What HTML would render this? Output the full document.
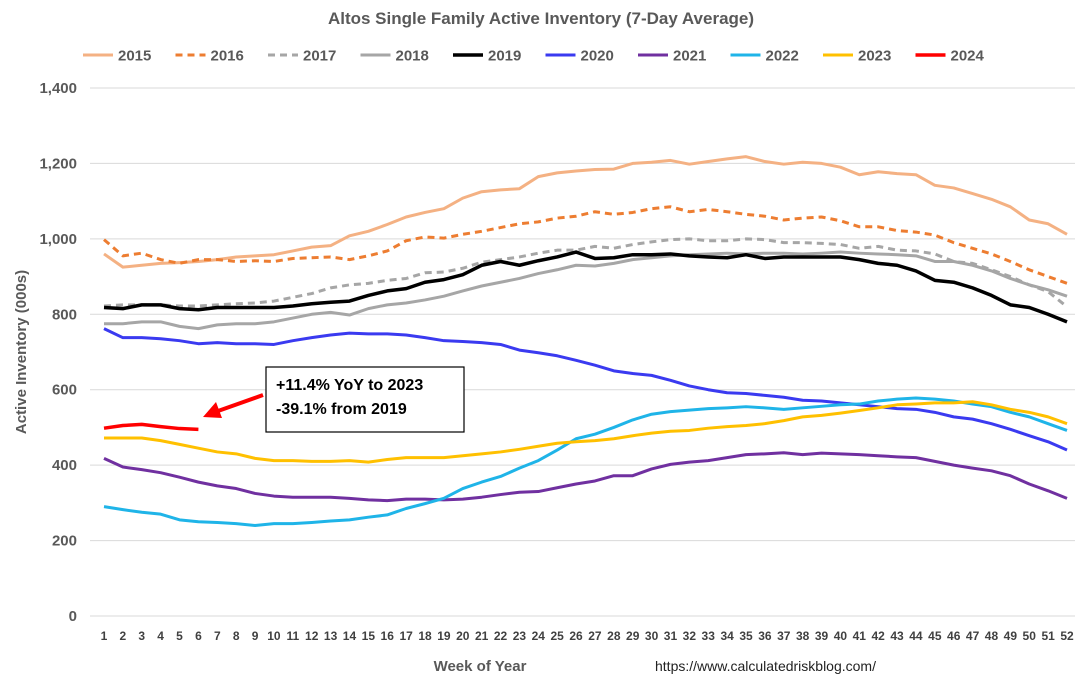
<!DOCTYPE html>
<html><head><meta charset="utf-8"><style>
body{margin:0;background:#fff;font-family:"Liberation Sans",sans-serif}
svg text{font-family:"Liberation Sans",sans-serif}
</style></head><body>
<svg id="chart" width="1088" height="683">
<text x="541" y="24" text-anchor="middle" font-size="17" font-weight="bold" fill="#595959">Altos Single Family Active Inventory (7-Day Average)</text>
<g id="grid"></g><g id="legend"></g><g id="series"></g>
<text transform="translate(26,352) rotate(-90)" text-anchor="middle" font-size="15" font-weight="bold" fill="#595959">Active Inventory (000s)</text>
<text x="480" y="671" text-anchor="middle" font-size="15" font-weight="bold" fill="#595959">Week of Year</text>
<text x="655" y="671" font-size="14" fill="#222">https://www.calculatedriskblog.com/</text>
<rect x="266" y="367" width="198" height="65" fill="#fff" stroke="#000" stroke-width="1.2"/>
<text x="276" y="390" font-size="16" font-weight="bold" fill="#000">+11.4% YoY to 2023</text>
<text x="276" y="414" font-size="16" font-weight="bold" fill="#000">-39.1% from 2019</text>
<g><line x1="263" y1="395" x2="218" y2="411" stroke="#f00" stroke-width="4"/><polygon points="203,417 216,402 222,418" fill="#f00"/></g>
</svg>
<script>
const years=["2015","2016","2017","2018","2019","2020","2021","2022","2023","2024"];
const yTicks=[0,200,400,600,800,1000,1200,1400];
const s2015=[960,925,930,935,937,940,945,952,955,958,968,978,982,1008,1020,1038,1058,1070,1080,1108,1125,1130,1133,1165,1175,1180,1184,1185,1200,1203,1208,1198,1205,1212,1218,1205,1198,1203,1200,1190,1170,1178,1173,1170,1142,1135,1120,1105,1085,1050,1040,1012];
const s2016=[998,955,962,945,935,945,945,940,942,940,948,950,952,945,955,968,995,1005,1002,1012,1020,1030,1040,1045,1055,1060,1072,1065,1070,1080,1085,1072,1078,1072,1065,1060,1050,1055,1058,1048,1032,1032,1022,1018,1010,990,975,960,940,918,900,882];
const s2017=[822,825,825,825,822,822,825,828,830,835,845,855,870,878,882,890,895,910,912,922,938,945,952,962,970,970,980,975,985,992,998,1000,995,995,1000,998,990,990,988,985,975,980,970,968,960,940,935,918,900,878,860,820];
const s2018=[775,775,780,780,768,762,772,775,775,780,790,800,805,798,815,825,830,838,848,862,875,885,895,908,918,930,928,935,945,950,955,958,960,962,960,962,962,960,962,965,962,960,958,955,940,940,930,915,895,878,865,848];
const s2019=[818,815,825,825,815,812,818,818,818,818,822,828,832,835,850,862,868,885,892,905,930,940,930,942,952,965,948,950,958,958,960,955,952,950,958,948,952,952,952,952,945,935,930,915,890,885,870,850,825,818,800,780];
const s2020=[762,738,738,735,730,722,725,722,722,720,730,738,745,750,748,748,745,738,730,728,725,720,705,698,690,678,665,650,643,638,625,610,600,592,590,585,580,572,570,565,560,555,550,548,540,528,522,510,495,478,462,440];
const s2021=[418,395,388,380,368,355,345,338,325,318,315,315,315,312,308,306,310,310,308,310,315,322,328,330,340,350,358,372,372,390,402,408,412,420,428,430,433,428,432,430,428,425,422,420,410,400,392,385,372,350,332,312];
const s2022=[290,282,275,270,255,250,248,245,240,245,245,248,252,255,262,268,285,298,312,338,355,370,392,412,440,470,482,500,520,535,542,546,550,552,555,552,548,552,556,560,562,570,575,578,575,570,562,555,540,528,510,492];
const s2023=[472,472,472,465,455,445,435,430,418,412,412,410,410,412,408,415,420,420,420,425,430,435,442,450,458,462,465,470,478,485,490,492,498,502,505,510,518,528,532,538,545,552,560,562,565,565,568,560,548,540,528,510];
const s2024=[498,505,508,502,497,495];
const allSeries=[s2015,s2016,s2017,s2018,s2019,s2020,s2021,s2022,s2023,s2024];
const colors=["#f4b183","#ed7d31","#a6a6a6","#a6a6a6","#000","#3a3af0","#7030a0","#1fb4e8","#ffc000","#f00"];
const dashes=[null,"7,5","7,5",null,null,null,null,null,null,null];
const widths=[3,3,3,3,3.5,3,3,3,3,3.5];
const NS="http://www.w3.org/2000/svg";
const x=w=>104+(w-1)*(963/51);
const y=v=>616-v*(528/1400);
function mk(t,a,p){const e=document.createElementNS(NS,t);for(const k in a)e.setAttribute(k,a[k]);p.appendChild(e);return e;}
const grid=document.getElementById('grid');
yTicks.forEach(v=>{
 const l=mk('line',{x1:90,x2:1075,y1:y(v),y2:y(v),stroke:"#d9d9d9","stroke-width":1},grid);
 
 
 const t=mk('text',{x:77,y:y(v)+5,"text-anchor":"end","font-size":15,"font-weight":"bold",fill:"#595959"},grid);
 t.textContent=v.toLocaleString('en-US');
 
 
});
for(let w=1;w<=52;w++){
 const t=mk('text',{x:x(w),y:640,"text-anchor":"middle","font-size":12,"font-weight":"bold",fill:"#404040"},grid);
 t.textContent=w;
 
 
}
const sg=document.getElementById('series');
allSeries.forEach((d,i)=>{
 const p=mk('polyline',{points:d.map((v,j)=>x(j+1)+","+y(v)).join(" "),fill:"none",stroke:colors[i],"stroke-width":widths[i],"stroke-linejoin":"round"},sg);
 if(dashes[i])p.setAttribute('stroke-dasharray',dashes[i]);
 
 
});
const lg=document.getElementById('legend');
years.forEach((yr,i)=>{
 const lx=83+i*92.5;
 const g=mk('g',{},lg);
 
 
 const l=mk('line',{x1:lx,x2:lx+30,y1:55,y2:55,stroke:colors[i],"stroke-width":widths[i]},g);
 if(dashes[i])l.setAttribute('stroke-dasharray',dashes[i]);
 const t=mk('text',{x:lx+35,y:60.5,"font-size":15,"font-weight":"bold",fill:"#595959"},g);
 t.textContent=yr;
});
</script>
</body></html>
